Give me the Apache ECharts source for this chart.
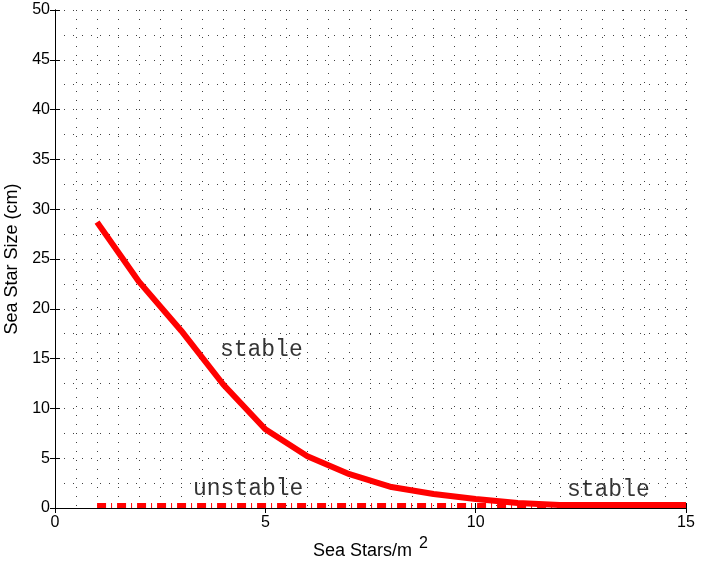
<!DOCTYPE html>
<html>
<head>
<meta charset="utf-8">
<script src="https://cdn.jsdelivr.net/npm/echarts@6/dist/echarts.min.js"></script>
<style>
  html, body { margin: 0; padding: 0; background: #fff; }
  #main { width: 701px; height: 563px; }
</style>
</head>
<body>
<div id="main"></div>
<script>
// sea star density vs size
var densityX = [1, 2, 3, 4, 5, 6, 7, 8, 9, 10, 11, 12, 13, 14, 15]
var stableSize = [28.7, 22.7, 17.8, 12.4, 7.9, 5.2, 3.4, 2.1, 1.4, 0.9, 0.5, 0.3, 0.3, 0.3, 0.3]
var unstableSize = [0.25, 0.25]
var unstableX = [1, 15]

// annotations
var annText = ['stable', 'unstable', 'stable']
var annX = [3.92, 3.28, 12.17]
var annY = [15.9, 1.9, 1.8]

var xTicks = [0, 5, 10, 15]
var yTicks = [0, 5, 10, 15, 20, 25, 30, 35, 40, 45, 50]

var gridDots = {
  show: true,
  lineStyle: { color: '#000', width: 1, type: [1, 8], opacity: 0.75 }
}

var chart = echarts.init(document.getElementById('main'))

var option = {
  animation: false,
  backgroundColor: '#fff',
  grid: { left: 55, right: 15, top: 10, bottom: 55, outerBoundsMode: 'none', containLabel: false },
  xAxis: [
    {
      type: 'value',
      min: xTicks[0],
      max: xTicks[xTicks.length - 1],
      interval: 5,
      position: 'bottom',
      axisLine: { lineStyle: { color: '#000', width: 1 } },
      axisTick: { inside: true, length: 5, lineStyle: { color: '#000' } },
      axisLabel: { color: '#000', fontSize: 16, fontFamily: 'Liberation Sans', margin: 7 },
      splitLine: gridDots,
      minorTick: { show: false, splitNumber: 10 },
      minorSplitLine: gridDots,
      name: 'Sea Stars/m{sup|2}',
      nameLocation: 'middle',
      nameGap: 27,
      nameTextStyle: {
        color: '#000',
        fontSize: 18,
        fontFamily: 'Liberation Sans',
        rich: {
          sup: { fontSize: 16, fontFamily: 'Liberation Sans', color: '#000', padding: [0, 0, 14, 7] }
        }
      }
    },
    {
      type: 'value',
      min: xTicks[0],
      max: xTicks[xTicks.length - 1],
      interval: 5,
      position: 'top',
      axisLine: { lineStyle: { color: '#000', width: 1 } },
      axisTick: { inside: true, length: 5, lineStyle: { color: '#000' } },
      axisLabel: { show: false },
      splitLine: { show: false }
    }
  ],
  yAxis: [
    {
      type: 'value',
      min: yTicks[0],
      max: yTicks[yTicks.length - 1],
      interval: 5,
      position: 'left',
      axisLine: { show: true, lineStyle: { color: '#000', width: 1 } },
      axisTick: { show: true, inside: true, length: 5, lineStyle: { color: '#000' } },
      axisLabel: { color: '#000', fontSize: 16, fontFamily: 'Liberation Sans', margin: 5 },
      splitLine: gridDots,
      minorTick: { show: false, splitNumber: 2 },
      minorSplitLine: gridDots,
      name: 'Sea Star Size (cm)',
      nameLocation: 'middle',
      nameGap: 34,
      nameTextStyle: { color: '#000', fontSize: 18, fontFamily: 'Liberation Sans' }
    },
    {
      type: 'value',
      min: yTicks[0],
      max: yTicks[yTicks.length - 1],
      interval: 5,
      position: 'right',
      axisLine: { show: true, lineStyle: { color: '#000', width: 1 } },
      axisTick: { show: true, inside: true, length: 5, lineStyle: { color: '#000' } },
      axisLabel: { show: false },
      splitLine: { show: false }
    }
  ],
  series: [
    {
      type: 'line',
      data: unstableX.map(function (x, i) { return [x, unstableSize[i]] }),
      symbol: 'none',
      lineStyle: { color: '#ff0000', width: 5, type: [9, 5, 1, 5], cap: 'butt' },
      z: 3
    },
    {
      type: 'line',
      data: densityX.map(function (x, i) { return [x, stableSize[i]] }),
      symbol: 'none',
      lineStyle: { color: '#ff0000', width: 6 },
      z: 4
    },
    {
      type: 'scatter',
      symbolSize: 0,
      data: annX.map(function (x, i) { return [x, annY[i], annText[i]] }),
      label: {
        show: true,
        position: 'right',
        distance: 0,
        formatter: function (p) { return p.value[2] },
        color: '#000',
        fontSize: 23,
        fontFamily: 'Liberation Mono'
      },
      z: 5
    }
  ]
}

chart.setOption(option)
</script>
</body>
</html>
